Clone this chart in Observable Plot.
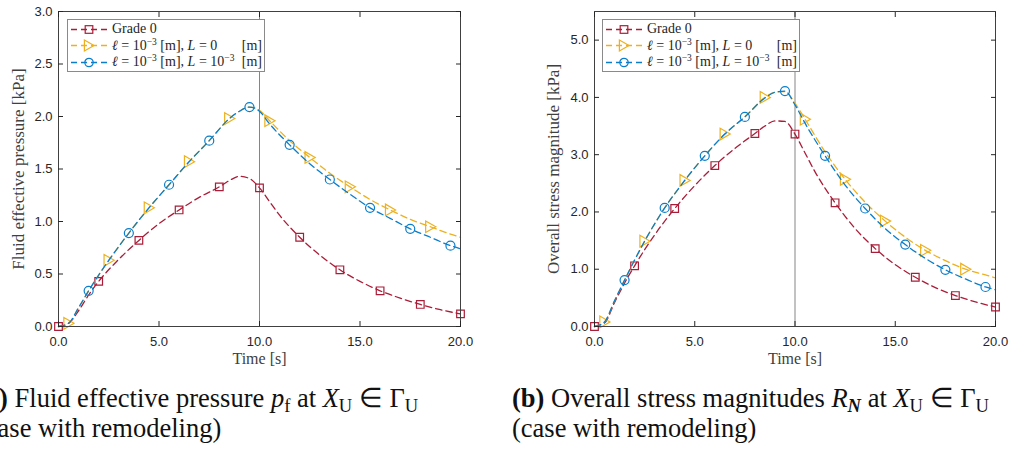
<!DOCTYPE html>
<html><head><meta charset="utf-8">
<script src="https://cdn.jsdelivr.net/npm/d3@7"></script>
<script src="https://cdn.jsdelivr.net/npm/@observablehq/plot@0.6"></script>
<style>
body{margin:0;background:#fff;}
#wrap{position:relative;width:1011px;height:450px;overflow:hidden;background:#fff;}
.panel{position:absolute;top:0;}
.legend{position:absolute;top:19px;width:198px;height:53px;background:#fff;border:1px solid #8a8a8a;box-sizing:border-box;padding-top:1px;font-family:"Liberation Serif","DejaVu Serif",serif;font-size:14px;color:#262626;}
.row{display:flex;align-items:center;height:16.5px;white-space:nowrap;}
.row .txt{flex:1;margin-left:2px;}
.row .unit{padding-right:2px;}
.row sup{font-size:9.5px;vertical-align:5px;line-height:0;}
.cap{position:absolute;font-family:"Liberation Serif","Times New Roman",serif;font-size:26.5px;line-height:29.5px;color:#111;white-space:nowrap;}
.cap sub{font-size:0.7em;vertical-align:-0.25em;line-height:0;}
</style></head><body>
<div id="wrap"></div>
<script>
// ---- data ----
const xTicks = [0, 5, 10, 15, 20];
const pressureTicks = [0, 0.5, 1, 1.5, 2, 2.5, 3];
const stressTicks = [0, 1, 2, 3, 4, 5];
const seriesColors = ["#AA1D38", "#EDB120", "#0A7ECB"];

const grade0Time = [0, 0.5, 1, 1.5, 2, 3, 4, 5, 6, 7, 8, 8.5, 9, 9.5, 10, 10.5, 11, 12, 13, 14, 15, 16, 17, 18, 19, 20];
const lengthTime = [0, 0.5, 1, 1.5, 2, 2.5, 3.5, 4.5, 5.5, 6.5, 7.5, 8.5, 9, 9.5, 10, 10.5, 11.5, 12.5, 13.5, 14.5, 15.5, 16.5, 17.5, 18.5, 19.5, 20];

const grade0Markers = [0, 2, 4, 6, 8, 10, 12, 14, 16, 18, 20];
const lengthL0Markers = [0.5, 2.5, 4.5, 6.5, 8.5, 10.5, 12.5, 14.5, 16.5, 18.5];
const lengthL3Markers = [1.5, 3.5, 5.5, 7.5, 9.5, 11.5, 13.5, 15.5, 17.5, 19.5];

// (a) fluid effective pressure [kPa]
const pressureGrade0 = [0, 0.03, 0.15, 0.30, 0.43, 0.64, 0.82, 0.98, 1.11, 1.23, 1.33, 1.39, 1.43, 1.41, 1.32, 1.19, 1.06, 0.85, 0.68, 0.54, 0.43, 0.34, 0.27, 0.21, 0.16, 0.12];
const pressureL0 = [0, 0.03, 0.18, 0.34, 0.49, 0.63, 0.89, 1.13, 1.35, 1.57, 1.77, 1.98, 2.05, 2.09, 2.06, 1.96, 1.77, 1.61, 1.46, 1.33, 1.21, 1.11, 1.02, 0.95, 0.88, 0.85];
const pressureL3 = [0, 0.03, 0.18, 0.34, 0.49, 0.63, 0.89, 1.13, 1.35, 1.57, 1.77, 1.98, 2.05, 2.09, 2.05, 1.93, 1.73, 1.55, 1.40, 1.26, 1.13, 1.03, 0.93, 0.85, 0.77, 0.74];

// (b) overall stress magnitude [kPa]
const stressGrade0 = [0, 0.06, 0.42, 0.76, 1.06, 1.60, 2.06, 2.46, 2.81, 3.11, 3.37, 3.50, 3.59, 3.58, 3.36, 3.03, 2.70, 2.16, 1.71, 1.36, 1.08, 0.86, 0.68, 0.54, 0.43, 0.34];
const stressL0 = [0, 0.08, 0.45, 0.81, 1.16, 1.49, 2.07, 2.55, 2.98, 3.36, 3.66, 4.00, 4.09, 4.10, 3.90, 3.62, 3.05, 2.57, 2.17, 1.84, 1.56, 1.33, 1.15, 1.00, 0.90, 0.85];
const stressL3 = [0, 0.08, 0.45, 0.81, 1.16, 1.49, 2.07, 2.55, 2.98, 3.36, 3.66, 3.99, 4.09, 4.11, 3.87, 3.55, 2.98, 2.47, 2.06, 1.71, 1.43, 1.19, 0.99, 0.83, 0.69, 0.64];

// ---- drawing ----
const triRight = {draw(ctx, size) {
  const s = Math.sqrt(size);
  ctx.moveTo(0.58 * s, 0);
  ctx.lineTo(-0.5 * s, -0.62 * s);
  ctx.lineTo(-0.5 * s, 0.62 * s);
  ctx.closePath();
}};
const symbols = ["square", triRight, "circle"];
const radii = [4.3, 5.3, 4.5];
const sans = "'Liberation Sans', Arial, sans-serif";
const serif = "'Liberation Serif', 'DejaVu Serif', serif";

function panel({width, marginLeft, marginRight, yMax, yTicks, yLabel, yLabelDx, series}) {
  const marks = [Plot.ruleX([10], {stroke: "#858585", strokeWidth: 1})];
  series.forEach((s, i) => {
    const data = s.t.map((t, j) => ({t, v: s.v[j]}));
    marks.push(Plot.line(data, {x: "t", y: "v", stroke: seriesColors[i], strokeWidth: 1.3, strokeDasharray: "6.5,4", curve: "monotone-x"}));
    const md = data.filter(d => s.m.includes(d.t));
    marks.push(Plot.dot(md, {x: "t", y: "v", symbol: symbols[i], r: radii[i], stroke: seriesColors[i], fill: "none", strokeWidth: 1.2}));
  });
  marks.push(
    Plot.frame({stroke: "#404040", strokeWidth: 1}),
    Plot.axisX(xTicks, {anchor: "bottom", tickSize: -5, tickPadding: 15, tickFormat: d3.format(".1f"), fontSize: 13, fontFamily: sans, color: "#262626", label: null}),
    Plot.axisX(xTicks, {anchor: "top", tickSize: -5, tickFormat: () => "", color: "#262626", label: null}),
    Plot.axisY(yTicks, {anchor: "left", tickSize: -5, tickPadding: 11, tickFormat: d3.format(".1f"), fontSize: 13, fontFamily: sans, color: "#262626", label: null}),
    Plot.axisY(yTicks, {anchor: "right", tickSize: -5, tickFormat: () => "", color: "#262626", label: null}),
    Plot.text(["Time [s]"], {frameAnchor: "bottom", dy: 32, textAnchor: "middle", lineAnchor: "middle", fontFamily: serif, fontSize: 16, fill: "#404040"}),
    Plot.text([yLabel], {frameAnchor: "left", dx: yLabelDx, rotate: -90, textAnchor: "middle", lineAnchor: "middle", fontFamily: serif, fontSize: 17, fill: "#404040"})
  );
  return Plot.plot({
    width, height: 370,
    marginLeft, marginRight, marginTop: 11, marginBottom: 44,
    x: {domain: [0, 20]},
    y: {domain: [0, yMax]},
    style: {background: "white", overflow: "visible"},
    marks
  });
}

const wrap = document.getElementById("wrap");

const p1 = panel({
  width: 505, marginLeft: 58, marginRight: 45, yMax: 3, yTicks: pressureTicks,
  yLabel: "Fluid effective pressure [kPa]", yLabelDx: -40,
  series: [
    {t: grade0Time, v: pressureGrade0, m: grade0Markers},
    {t: lengthTime, v: pressureL0, m: lengthL0Markers},
    {t: lengthTime, v: pressureL3, m: lengthL3Markers}
  ]
});
const p2 = panel({
  width: 506, marginLeft: 89, marginRight: 16, yMax: 5.5, yTicks: stressTicks,
  yLabel: "Overall stress magnitude [kPa]", yLabelDx: -41,
  series: [
    {t: grade0Time, v: stressGrade0, m: grade0Markers},
    {t: lengthTime, v: stressL0, m: lengthL0Markers},
    {t: lengthTime, v: stressL3, m: lengthL3Markers}
  ]
});
const d1 = document.createElement("div"); d1.className = "panel"; d1.style.left = "0px"; d1.appendChild(p1);
const d2 = document.createElement("div"); d2.className = "panel"; d2.style.left = "505px"; d2.appendChild(p2);
wrap.appendChild(d1); wrap.appendChild(d2);

function swatch(i) {
  const c = seriesColors[i];
  let m;
  if (i === 0) m = `<rect x="17.2" y="4.7" width="7.6" height="7.6" fill="none" stroke="${c}" stroke-width="1.2"/>`;
  else if (i === 1) m = `<path d="M26,8.5L16.4,3L16.4,14Z" fill="none" stroke="${c}" stroke-width="1.2"/>`;
  else m = `<circle cx="21" cy="8.5" r="4.2" fill="none" stroke="${c}" stroke-width="1.2"/>`;
  return `<svg width="42" height="17"><line x1="3" x2="39" y1="8.5" y2="8.5" stroke="${c}" stroke-width="1.3" stroke-dasharray="6,4"/>${m}</svg>`;
}
const legendLabels = [
  ["Grade 0", ""],
  ["<i>ℓ</i> = 10<sup>−3</sup> [m], <i>L</i> = 0", "[m]"],
  ["<i>ℓ</i> = 10<sup>−3</sup> [m], <i>L</i> = 10<sup>−3</sup>", "[m]"]
];
function legend(left) {
  const el = document.createElement("div");
  el.className = "legend";
  el.style.left = left + "px";
  el.innerHTML = legendLabels.map((l, i) => `<div class="row">${swatch(i)}<span class="txt">${l[0]}</span><span class="unit">${l[1]}</span></div>`).join("");
  wrap.appendChild(el);
}
legend(67);
legend(602);

const c1 = document.createElement("div");
c1.className = "cap"; c1.style.left = "-23px"; c1.style.top = "384px";
c1.innerHTML = `<b>(a)</b> Fluid effective pressure <i>p</i><sub>f</sub> at <i>X</i><sub>U</sub> ∈ Γ<sub>U</sub><br>(case with remodeling)`;
const c2 = document.createElement("div");
c2.className = "cap"; c2.style.left = "512px"; c2.style.top = "384px";
c2.innerHTML = `<b>(b)</b> Overall stress magnitudes <i>R</i><sub><b><i>N</i></b></sub> at <i>X</i><sub>U</sub> ∈ Γ<sub>U</sub><br>(case with remodeling)`;
wrap.appendChild(c1); wrap.appendChild(c2);
</script>
</body></html>
